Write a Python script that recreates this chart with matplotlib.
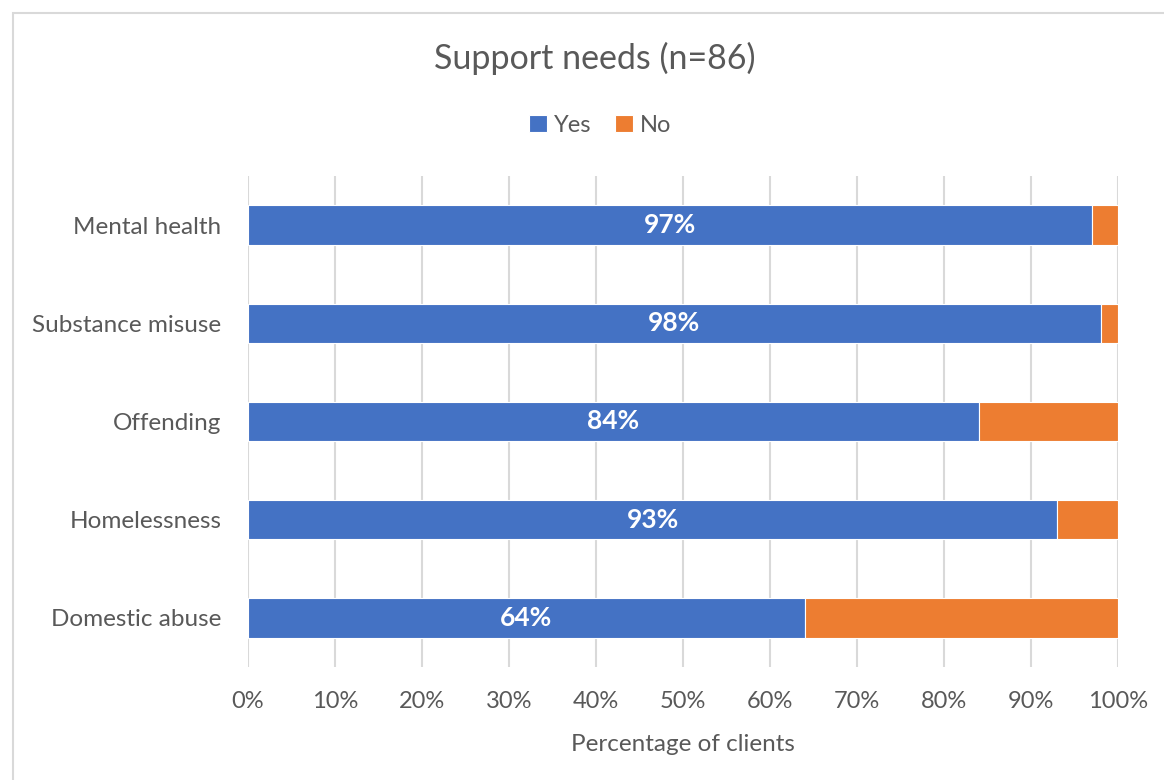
import numpy as np
import matplotlib.pyplot as plt
from matplotlib.patches import Rectangle

# Dados do gráfico
categories = ["Mental health", "Substance misuse", "Offending", "Homelessness", "Domestic abuse"]
yes_pct = [97, 98, 84, 93, 64]
no_pct = [100 - v for v in yes_pct]
xticks = [0, 10, 20, 30, 40, 50, 60, 70, 80, 90, 100]

blue = "#4472C4"
orange = "#ED7D31"
text_gray = "#595959"

plt.rcParams["font.family"] = ["Lato", "DejaVu Sans"]

fig = plt.figure(figsize=(11.64, 7.80), dpi=100)
ax = fig.add_axes([248 / 1164, 1 - 667 / 780, 870 / 1164, 491 / 780])

# Moldura cinza do gráfico
fig.patches.append(Rectangle((13 / 1164, -0.05), 1.2, 1 - 13 / 780 + 0.05,
                             transform=fig.transFigure, fill=False,
                             edgecolor="#D9D9D9", linewidth=1.5))

y = np.arange(len(categories))
ax.barh(y, yes_pct, height=0.4, color=blue, edgecolor="white", linewidth=0.8, label="Yes", zorder=3)
ax.barh(y, no_pct, left=yes_pct, height=0.4, color=orange, edgecolor="white", linewidth=0.8, label="No", zorder=3)

for yi, v in zip(y, yes_pct):
    ax.text(v / 2, yi, f"{v}%", ha="center", va="center", color="white",
            fontsize=19, fontweight="bold", zorder=4)

ax.set_ylim(len(categories) - 0.5, -0.5)
ax.set_xlim(0, 100)
ax.set_yticks(y)
ax.set_yticklabels(categories, fontsize=17.5, color=text_gray)
ax.set_xticks(xticks)
ax.set_xticklabels([f"{t}%" for t in xticks], fontsize=17, color=text_gray)
ax.tick_params(length=0)
ax.tick_params(axis="x", pad=17)
ax.tick_params(axis="y", pad=19)
ax.grid(axis="x", color="#D9D9D9", linewidth=1.5, zorder=0)
for s in ax.spines.values():
    s.set_visible(False)

ax.set_xlabel("Percentage of clients", fontsize=17.5, color=text_gray, labelpad=16)

fig.text(595 / 1164, 1 - 58 / 780, "Support needs (n=86)", ha="center", va="center",
         fontsize=24.5, color=text_gray)
fig.legend(loc="center", bbox_to_anchor=(600 / 1164, 1 - 125 / 780), ncol=2, frameon=False,
           fontsize=17, labelcolor=text_gray, handlelength=0.75, handleheight=0.75,
           handletextpad=0.3, columnspacing=1.0)

fig.savefig("out.png", dpi=100)
